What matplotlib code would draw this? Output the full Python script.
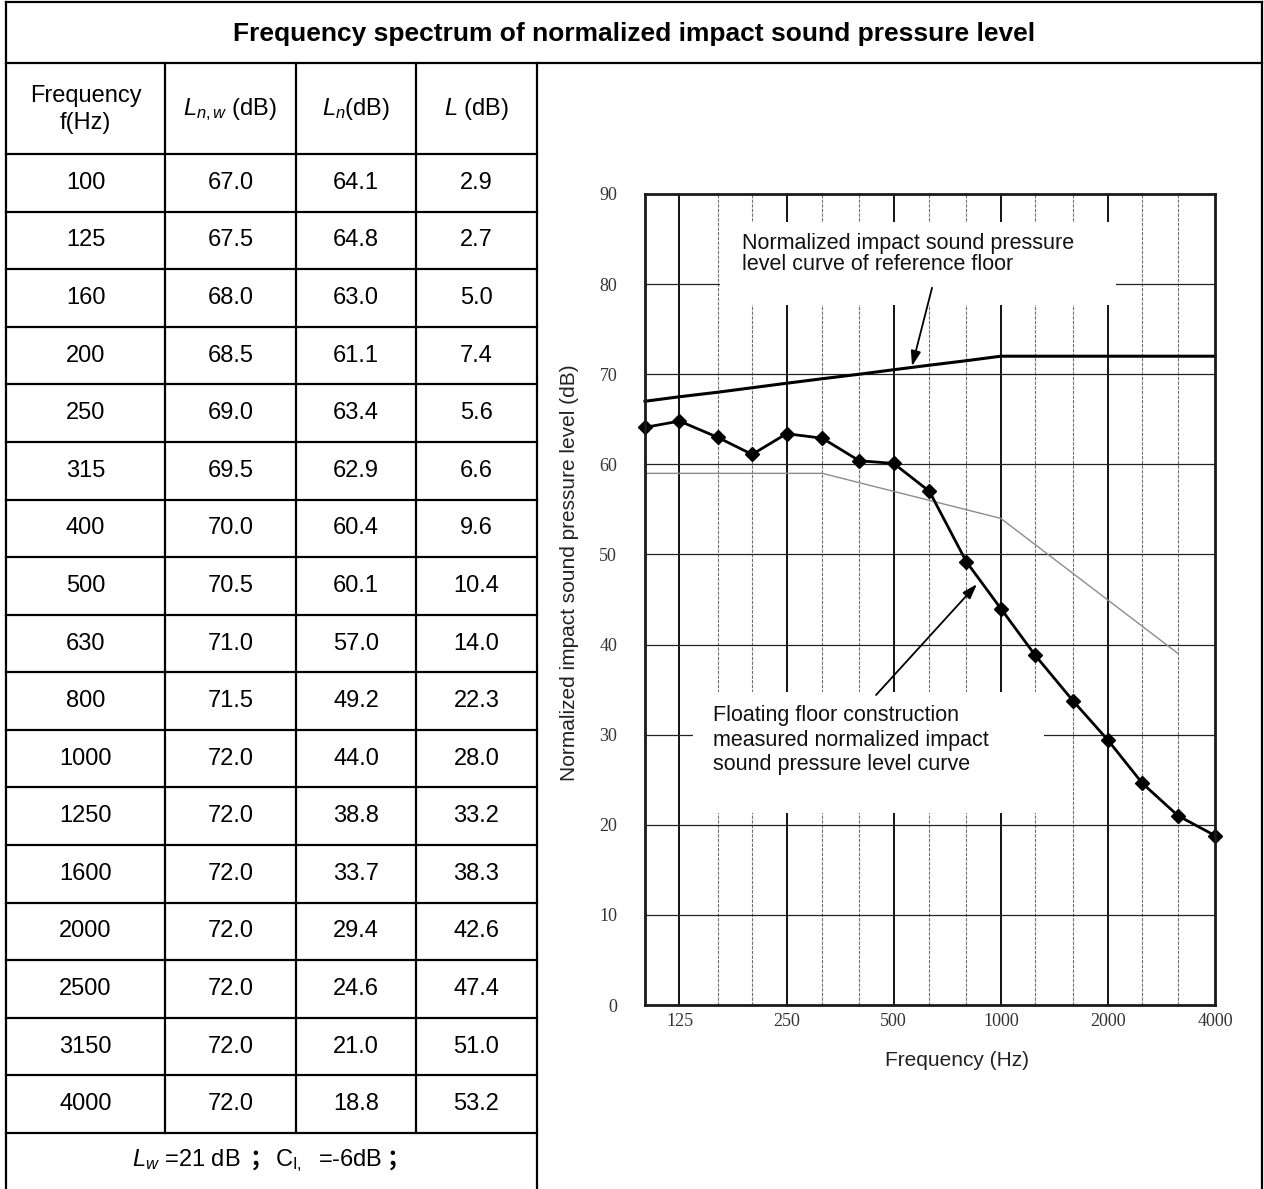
import matplotlib
matplotlib.use("Agg")
import matplotlib.pyplot as plt
from matplotlib.patches import Rectangle
from matplotlib.ticker import NullLocator

plt.rcParams['font.family'] = ['Liberation Sans', 'DejaVu Sans']
plt.rcParams['mathtext.fontset'] = 'custom'
plt.rcParams['mathtext.rm'] = 'Liberation Sans'
plt.rcParams['mathtext.it'] = 'Liberation Sans:italic'
plt.rcParams['mathtext.bf'] = 'Liberation Sans:bold'

# ---------------- data ----------------
freqs = [100, 125, 160, 200, 250, 315, 400, 500, 630, 800, 1000,
         1250, 1600, 2000, 2500, 3150, 4000]
Lnw = [67.0, 67.5, 68.0, 68.5, 69.0, 69.5, 70.0, 70.5, 71.0, 71.5, 72.0,
       72.0, 72.0, 72.0, 72.0, 72.0, 72.0]
Ln = [64.1, 64.8, 63.0, 61.1, 63.4, 62.9, 60.4, 60.1, 57.0, 49.2, 44.0,
      38.8, 33.7, 29.4, 24.6, 21.0, 18.8]
Ldiff = [2.9, 2.7, 5.0, 7.4, 5.6, 6.6, 9.6, 10.4, 14.0, 22.3, 28.0,
         33.2, 38.3, 42.6, 47.4, 51.0, 53.2]
# thin grey spectrum drawn in the chart
grey_freqs = [100, 315, 630, 1000, 3150]
grey_vals = [59.0, 59.0, 56.0, 54.0, 39.0]

x_ticks = [125, 250, 500, 1000, 2000, 4000]
y_ticks = [0, 10, 20, 30, 40, 50, 60, 70, 80, 90]

title = "Frequency spectrum of normalized impact sound pressure level"
headers = ["Frequency\nf(Hz)", r"$L_{n,w}$ (dB)", r"$L_n$(dB)", r"$L$ (dB)"]
ref_note = "Normalized impact sound pressure\nlevel curve of reference floor"
meas_note = "Floating floor construction\nmeasured normalized impact\nsound pressure level curve"
xlabel = "Frequency (Hz)"
ylabel = "Normalized impact sound pressure level (dB)"

# ---------------- figure ----------------
W, H = 1264, 1189
fig = plt.figure(figsize=(W / 100, H / 100), dpi=100)
tab = fig.add_axes([0, 0, 1, 1])
tab.set_xlim(0, W)
tab.set_ylim(H, 0)
tab.axis('off')

col_x = [6, 165, 296, 416, 537]
x_right = 1262
y_top = 2
y_title = 63
y_head = 154
y_last = 1133
n_rows = len(freqs)
row_h = (y_last - y_head) / n_rows
lw_t = 1.6

def hline(y, x0, x1):
    tab.plot([x0, x1], [y, y], color='black', lw=lw_t, solid_capstyle='projecting')

def vline(x, y0, y1):
    tab.plot([x, x], [y0, y1], color='black', lw=lw_t, solid_capstyle='projecting')

hline(y_top, col_x[0], x_right)
hline(y_title, col_x[0], x_right)
vline(col_x[0], y_top, H + 5)
vline(x_right, y_top, H + 5)
vline(col_x[4], y_title, H + 5)
for i in range(n_rows + 1):
    hline(y_head + i * row_h, col_x[0], col_x[4])
for x in col_x[1:4]:
    vline(x, y_title, y_last)

tab.text((col_x[0] + x_right) / 2, (y_top + y_title) / 2 + 1, title,
         ha='center', va='center', fontsize=19, fontweight='bold')

fs_tab = 17
for j, h in enumerate(headers):
    xc = (col_x[j] + col_x[j + 1]) / 2
    tab.text(xc, (y_title + y_head) / 2 + 1, h, ha='center', va='center',
             fontsize=fs_tab, linespacing=1.25)

for i in range(n_rows):
    yc = y_head + (i + 0.5) * row_h
    vals = [str(freqs[i]), f"{Lnw[i]:.1f}", f"{Ln[i]:.1f}", f"{Ldiff[i]:.1f}"]
    for j, v in enumerate(vals):
        xc = (col_x[j] + col_x[j + 1]) / 2
        tab.text(xc, yc, v, ha='center', va='center', fontsize=fs_tab)

# bottom row: pieces laid out left to right
renderer = fig.canvas.get_renderer()
cjk = ['Noto Sans CJK SC', 'DejaVu Sans']
segs = [
    (r"$L_w$ =21 dB", {}, 9),
    ("；", {'family': cjk, 'fontweight': 'bold'}, 1),
    (r"C$_{\mathrm{I,}}$  =-6dB", {}, 5),
    ("；", {'family': cjk, 'fontweight': 'bold'}, 0),
]
objs = []
total = 0
y_base = 1166
for s, kw, gap in segs:
    t = tab.text(0, y_base, s, ha='left', va='baseline', fontsize=fs_tab, **kw)
    w = t.get_window_extent(renderer).width
    objs.append((t, w, gap))
    total += w + gap
x = (col_x[0] + col_x[4]) / 2 - total / 2
for t, w, gap in objs:
    t.set_x(x)
    x += w + gap

# ---------------- chart ----------------
ax = fig.add_axes([645 / W, 1 - 1005 / H, 570 / W, 811 / H])
ax.set_xscale('log')
ax.set_xlim(100, 4000)
ax.set_ylim(0, 90)
ax.xaxis.set_minor_locator(NullLocator())
ax.set_xticks(x_ticks)
ax.set_xticklabels([str(v) for v in x_ticks])
ax.set_yticks(y_ticks)
ax.set_yticklabels([str(v) for v in y_ticks])
ax.tick_params(axis='both', length=0, labelsize=13, labelcolor='#333333')
ax.tick_params(axis='y', pad=20)
ax.tick_params(axis='x', pad=6)
for lab in ax.get_xticklabels() + ax.get_yticklabels():
    lab.set_family('Liberation Serif')
for sp in ax.spines.values():
    sp.set_linewidth(2.0)
    sp.set_color('#1a1a1a')
    sp.set_zorder(6)

for f in freqs[1:-1]:
    if f in x_ticks:
        ax.axvline(f, color='black', lw=1.3, zorder=1)
    else:
        ax.axvline(f, color='#707070', lw=0.8, ls=(0, (3, 1.2)), zorder=1)
for yv in y_ticks[1:-1]:
    ax.axhline(yv, color='#222222', lw=0.9, zorder=1)

# white boxes behind the notes (grid interrupted)
ax.add_patch(Rectangle((162.5, 77.7), 2107 - 162.5, 86.9 - 77.7,
                       facecolor='white', edgecolor='none', zorder=2))
ax.add_patch(Rectangle((136.5, 21.3), 1322 - 136.5, 34.7 - 21.3,
                       facecolor='white', edgecolor='none', zorder=2))

ax.plot(grey_freqs, grey_vals, color='#8c8c8c', lw=1.0, zorder=3)
ax.plot(freqs, Lnw, color='black', lw=2.2, zorder=4, clip_on=False)
ax.plot(freqs, Ln, color='black', lw=2.0, marker='D', ms=7.5, mfc='black',
        mec='black', zorder=5, clip_on=False)

ax.text(187, 83.3, ref_note, ha='left', va='center', fontsize=15.5,
        linespacing=1.0, color='#111111', zorder=7)
ax.text(155, 29.4, meas_note, ha='left', va='center', fontsize=15.5,
        linespacing=1.2, color='#111111', zorder=7)

arrow = dict(arrowstyle='-|>,head_length=0.9,head_width=0.3', color='black',
             lw=1.3, shrinkA=0, shrinkB=0)
ax.annotate("", xy=(563, 70.9), xytext=(641, 79.6), arrowprops=arrow, zorder=7)
ax.annotate("", xy=(857, 46.7), xytext=(446, 34.4), arrowprops=arrow, zorder=7)

ax.set_xlabel(xlabel, fontsize=15, color='#222222')
ax.xaxis.set_label_coords(0.547, -0.068)
ax.xaxis.label.set_va('center')
ax.set_ylabel(ylabel, fontsize=15, color='#222222')
ax.yaxis.set_label_coords(-0.1316, 0.533)
ax.yaxis.label.set_va('center')

fig.savefig("out.png", dpi=100)
